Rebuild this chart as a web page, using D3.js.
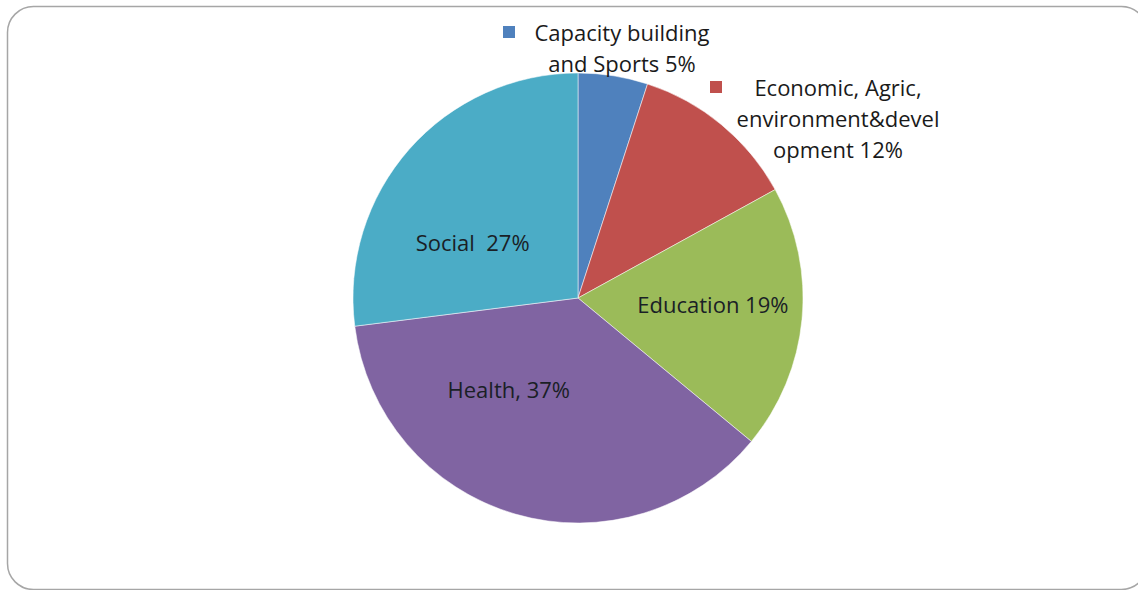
<!DOCTYPE html>
<html>
<head>
<meta charset="utf-8">
<script src="https://cdn.jsdelivr.net/npm/d3@7"></script>
<style>
  body { margin: 0; background: #fff; }
  svg { display: block; font-family: "Open Sans", sans-serif; }
  text { white-space: pre; }
</style>
</head>
<body>
<div id="chart"></div>
<script>
// data
var categories = ["Capacity building and Sports", "Economic, Agric, environment&development", "Education", "Health", "Social"];
var values = [5, 12, 19, 37, 27];
var labelLines = [
    ["Capacity building", "and Sports 5%"],
    ["Economic, Agric,", "environment&devel", "opment 12%"],
    ["Education 19%"],
    ["Health, 37%"],
    ["Social  27%"]
];
var colors = ["#4f81bd", "#c0504d", "#9bbb59", "#8064a2", "#4bacc6"];

var svgWidth = 1138;
var svgHeight = 590;

var svg = d3.select("#chart")
    .append("svg")
    .attr("width", svgWidth)
    .attr("height", svgHeight);

// rounded frame (right and bottom run off the page)
svg.append("rect")
    .attr("x", 7.5)
    .attr("y", 6.5)
    .attr("width", 1140)
    .attr("height", 583)
    .attr("rx", 26)
    .attr("fill", "#fff")
    .attr("stroke", "#a6a6a6")
    .attr("stroke-width", 1.5);

var cx = 578, cy = 298, radius = 225;

var pie = d3.pie().sort(null).value(d => d);
var arc = d3.arc().innerRadius(0).outerRadius(radius);
var arcs = pie(values);

var pieGroup = svg.append("g")
    .attr("transform", `translate(${cx}, ${cy})`);

pieGroup.selectAll("path")
    .data(arcs)
    .enter()
    .append("path")
    .attr("d", arc)
    .attr("fill", (d, i) => colors[i])
    .attr("stroke", "#ffffff")
    .attr("stroke-opacity", 0.5)
    .attr("stroke-width", 1);

// labels inside slices (Education, Health, Social)
var inside = [
    { i: 2, r: 0.62, dx: -4, dy: -7 },
    { i: 3, r: 0.45, dx: -41, dy: -6 },
    { i: 4, r: 0.5, dx: -21, dy: 18 }
];
var insideArc = d => d3.arc().innerRadius(radius * d.r).outerRadius(radius * d.r);

inside.forEach(function(o) {
    var c = insideArc(o).centroid(arcs[o.i]);
    pieGroup.append("text")
        .attr("x", c[0] + o.dx)
        .attr("y", c[1] + o.dy)
        .attr("text-anchor", "middle")
        .attr("dominant-baseline", "central")
        .attr("font-size", 22)
        .attr("fill", "#1a1f26")
        .text(labelLines[o.i][0]);
});

// outside labels with a legend-style square (Capacity, Economic)
var outside = [
    { i: 0, x: 622, y: 32, sqx: 509 },
    { i: 1, x: 838, y: 87, sqx: 716 }
];
outside.forEach(function(o) {
    svg.append("rect")
        .attr("x", o.sqx - 6)
        .attr("y", o.y - 6)
        .attr("width", 12)
        .attr("height", 12)
        .attr("fill", colors[o.i]);
    labelLines[o.i].forEach(function(line, k) {
        svg.append("text")
            .attr("x", o.x)
            .attr("y", o.y + k * 31)
            .attr("text-anchor", "middle")
            .attr("dominant-baseline", "central")
            .attr("font-size", 22)
            .attr("fill", "#1a1a1a")
            .text(line);
    });
});
</script>
</body>
</html>
